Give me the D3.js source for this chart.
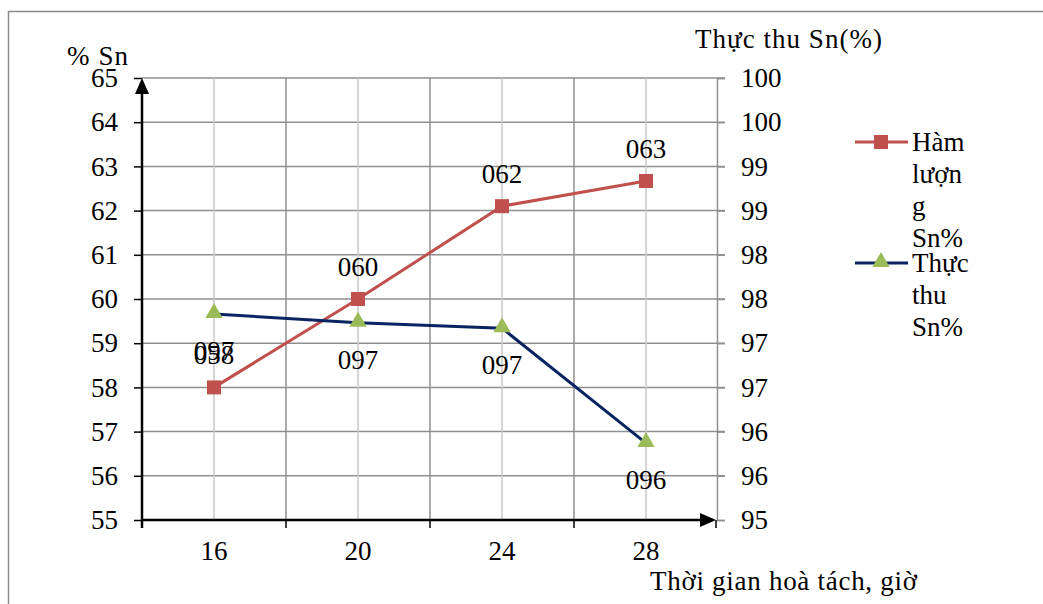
<!DOCTYPE html>
<html>
<head>
<meta charset="utf-8">
<script src="https://cdn.jsdelivr.net/npm/d3@7"></script>
<style>
  body { margin: 0; background: #fff; }
</style>
</head>
<body>
<script>
/* DATA */
var hours = ["16", "20", "24", "28"];
var hamLuong = [58.0, 60.0, 62.1, 62.67];   // left axis, % Sn
var thucThu = [97.33, 97.23, 97.17, 95.87]; // right axis, Thực thu Sn(%)
var leftTicks = [55, 56, 57, 58, 59, 60, 61, 62, 63, 64, 65];
var rightTicks = [95, 95.5, 96, 96.5, 97, 97.5, 98, 98.5, 99, 99.5, 100];

var W = 1043, H = 604;
var plot = { left: 142, right: 718, top: 78, bottom: 520 };
var FONT = "'Liberation Serif', 'Times New Roman', serif";
var fs = 27;

var svg = d3.select("body").append("svg")
  .attr("width", W).attr("height", H);

function styleText(sel) {
  sel.attr("font-family", FONT).attr("font-size", fs).attr("fill", "#000");
}

// outer frame
svg.append("path")
  .attr("d", "M8.5," + H + "V11.5H" + W)
  .attr("fill", "none").attr("stroke", "#8c8c8c").attr("stroke-width", 1.5);

// scales
var x = d3.scaleBand().domain(hours).range([plot.left, plot.right]).padding(0);
var cx = function (h) { return x(h) + x.bandwidth() / 2; };
var yL = d3.scaleLinear().domain([55, 65]).range([plot.bottom, plot.top]);
var yR = d3.scaleLinear().domain([95, 100]).range([plot.bottom, plot.top]);

// grid
var grid = svg.append("g");
grid.selectAll(".hg").data(leftTicks.slice(1)).enter().append("line")
  .attr("x1", plot.left).attr("x2", plot.right + 7)
  .attr("y1", function (d) { return yL(d); }).attr("y2", function (d) { return yL(d); })
  .attr("stroke", "#8f8f8f").attr("stroke-width", 1.5);
grid.selectAll(".vc").data(hours).enter().append("line")
  .attr("x1", cx).attr("x2", cx)
  .attr("y1", plot.top).attr("y2", plot.bottom)
  .attr("stroke", "#c8c8c8").attr("stroke-width", 1.5);
grid.selectAll(".vb").data(hours.slice(1)).enter().append("line")
  .attr("x1", function (d) { return x(d); }).attr("x2", function (d) { return x(d); })
  .attr("y1", plot.top).attr("y2", plot.bottom)
  .attr("stroke", "#8f8f8f").attr("stroke-width", 1.5);

// right axis
var axR = svg.append("g").attr("transform", "translate(" + (plot.right - 1) + ",0)")
  .call(d3.axisRight(yR).tickValues(rightTicks).tickSize(8).tickPadding(16)
    .tickFormat(function (d) { return d.toFixed(0); }));
axR.select(".domain").attr("stroke", "#8f8f8f").attr("stroke-width", 1.5);
axR.selectAll(".tick line").attr("stroke", "#8f8f8f").attr("stroke-width", 1.5);
axR.selectAll("text").call(styleText);

// left axis
var axL = svg.append("g").attr("transform", "translate(" + plot.left + ",0)")
  .call(d3.axisLeft(yL).tickValues(leftTicks).tickSize(8).tickPadding(16).tickFormat(d3.format("d")));
axL.select(".domain").remove();
axL.selectAll(".tick line").attr("stroke", "#000").attr("stroke-width", 1.5);
axL.selectAll("text").call(styleText);

// bottom axis
var axB = svg.append("g").attr("transform", "translate(0," + plot.bottom + ")")
  .call(d3.axisBottom(x).tickSize(0).tickPadding(21));
axB.select(".domain").remove();
axB.selectAll("text").call(styleText);
svg.selectAll(".btick").data(hours.concat(["end"])).enter().append("line")
  .attr("x1", function (d) { return d === "end" ? plot.right - 2 : x(d); })
  .attr("x2", function (d) { return d === "end" ? plot.right - 2 : x(d); })
  .attr("y1", plot.bottom).attr("y2", plot.bottom + 8)
  .attr("stroke", "#000").attr("stroke-width", 1.5);

// arrow axes
svg.append("line").attr("x1", plot.left).attr("x2", plot.right - 14)
  .attr("y1", plot.bottom).attr("y2", plot.bottom)
  .attr("stroke", "#000").attr("stroke-width", 2.5);
svg.append("path")
  .attr("d", "M" + (plot.right - 2) + "," + plot.bottom + "l-16,-7v14z").attr("fill", "#000");
svg.append("line").attr("x1", plot.left).attr("x2", plot.left)
  .attr("y1", plot.top + 14).attr("y2", plot.bottom + 8)
  .attr("stroke", "#000").attr("stroke-width", 2.5);
svg.append("path")
  .attr("d", "M" + plot.left + "," + plot.top + "l-7,16h14z").attr("fill", "#000");

// series
var red = "#c0504d", navy = "#0a2463", green = "#9bbb59";
var line = d3.line();
svg.append("path")
  .attr("d", line(hours.map(function (h, i) { return [cx(h), yL(hamLuong[i])]; })))
  .attr("fill", "none").attr("stroke", red).attr("stroke-width", 3);
svg.append("path")
  .attr("d", line(hours.map(function (h, i) { return [cx(h), yR(thucThu[i])]; })))
  .attr("fill", "none").attr("stroke", navy).attr("stroke-width", 3);

var tri = d3.symbol().type(d3.symbolTriangle).size(130);
svg.selectAll(".sq").data(hamLuong).enter().append("rect")
  .attr("x", function (d, i) { return cx(hours[i]) - 7; })
  .attr("y", function (d) { return yL(d) - 7; })
  .attr("width", 14).attr("height", 14).attr("fill", red);
svg.selectAll(".tr").data(thucThu).enter().append("path")
  .attr("d", tri)
  .attr("transform", function (d, i) { return "translate(" + cx(hours[i]) + "," + (yR(d) - 1) + ")"; })
  .attr("fill", green);

// data labels
var fmt = function (v) { return d3.format("03d")(Math.round(v)); };
svg.selectAll(".lr").data(hamLuong).enter().append("text")
  .attr("x", function (d, i) { return cx(hours[i]); })
  .attr("y", function (d) { return yL(d) - 23; })
  .attr("text-anchor", "middle").text(fmt).call(styleText);
svg.selectAll(".lb").data(thucThu).enter().append("text")
  .attr("x", function (d, i) { return cx(hours[i]); })
  .attr("y", function (d) { return yR(d) + 46; })
  .attr("text-anchor", "middle").text(fmt).call(styleText);

// axis titles
svg.append("text").attr("x", 67).attr("y", 65).text("% Sn").call(styleText)
  .attr("textLength", 61);
svg.append("text").attr("x", 695).attr("y", 48).text("Thực thu Sn(%)").call(styleText)
  .attr("textLength", 187);
svg.append("text").attr("x", 650).attr("y", 590).text("Thời gian hoà tách, giờ").call(styleText)
  .attr("textLength", 267);

// legend
var legend = [
  { color: red, marker: "square", lines: ["Hàm", "lượn", "g", "Sn%"], y: 142 },
  { color: navy, marker: "triangle", lines: ["Thực", "thu", "Sn%"], y: 263 }
];
legend.forEach(function (l) {
  var g = svg.append("g");
  g.append("line").attr("x1", 855).attr("x2", 908).attr("y1", l.y).attr("y2", l.y)
    .attr("stroke", l.color).attr("stroke-width", 3);
  if (l.marker === "square") {
    g.append("rect").attr("x", 874).attr("y", l.y - 7).attr("width", 14).attr("height", 14).attr("fill", red);
  } else {
    g.append("path").attr("d", tri).attr("transform", "translate(881," + (l.y - 1) + ")").attr("fill", green);
  }
  g.selectAll("text").data(l.lines).enter().append("text")
    .attr("x", 912).attr("y", function (d, i) { return l.y + 9 + i * 32; })
    .text(function (d) { return d; }).call(styleText);
});
</script>
</body>
</html>
